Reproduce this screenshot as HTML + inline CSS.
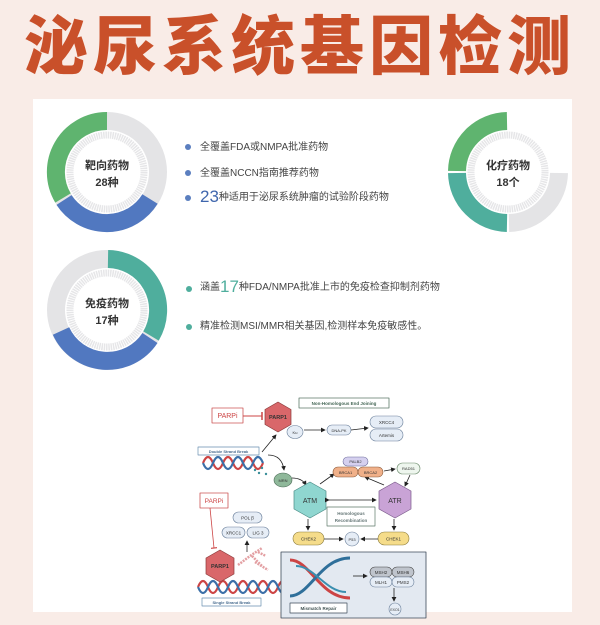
<!DOCTYPE html>
<html><head><meta charset="utf-8">
<style>
html,body{margin:0;padding:0}
body{width:600px;height:625px;background:#f9ece7;position:relative;overflow:hidden;font-family:"Liberation Sans","Noto Sans CJK SC",sans-serif}
.title{position:absolute;left:0;top:2px;width:600px;text-align:center;font-family:"Noto Sans CJK SC",sans-serif;font-weight:900;font-size:64px;line-height:80px;color:#c9502a;letter-spacing:5px}
.panel{position:absolute;left:33px;top:99px;width:539px;height:513px;background:#fff}
.t{position:absolute;font-size:10px;color:#444;white-space:nowrap;line-height:14px}
.dot{position:absolute;width:6px;height:6px;border-radius:50%;background:#5b7fbf}
</style></head><body>
<div class="title">泌尿系统基因检测</div>
<div class="panel"></div>
<svg width="600" height="625" style="position:absolute;left:0;top:0" font-family="Liberation Sans, Noto Sans CJK SC, sans-serif">
<defs>
<g id="inner"><circle r="37" fill="none" stroke="#e6e6e8" stroke-width="7" stroke-dasharray="1.5 0.8"/></g>
</defs>
<!-- donut 1 -->
<g transform="translate(107,172)">
<circle r="51" fill="none" stroke="#e4e4e6" stroke-width="18"/>
<path d="M0 -51 A51 51 0 0 0 -44 26" fill="none" stroke="#5fb46f" stroke-width="18"/>
<path d="M-43 28 A51 51 0 0 0 43 27" fill="none" stroke="#5178c0" stroke-width="18"/>
<use href="#inner"/>
<text y="-3" text-anchor="middle" font-size="11" font-weight="bold" fill="#333">靶向药物</text>
<text y="14" text-anchor="middle" font-size="11" font-weight="bold" fill="#333">28种</text>
</g>
<!-- donut 2 -->
<g transform="translate(107,310)">
<circle r="51" fill="none" stroke="#e4e4e6" stroke-width="18"/>
<path d="M1 -51 A51 51 0 0 1 44 26" fill="none" stroke="#4fae9d" stroke-width="18"/>
<path d="M43 28 A51 51 0 0 1 -46 21" fill="none" stroke="#5178c0" stroke-width="18"/>
<use href="#inner"/>
<text y="-3" text-anchor="middle" font-size="11" font-weight="bold" fill="#333">免疫药物</text>
<text y="14" text-anchor="middle" font-size="11" font-weight="bold" fill="#333">17种</text>
</g>
<!-- donut 3 -->
<g transform="translate(508,172)">
<path d="M51 1 A51 51 0 0 1 1 51" fill="none" stroke="#e4e4e6" stroke-width="18"/>
<path d="M-1 -51 A51 51 0 0 0 -51 -1" fill="none" stroke="#5fb46f" stroke-width="18"/>
<path d="M-51 1 A51 51 0 0 0 -1 51" fill="none" stroke="#4fae9d" stroke-width="18"/>
<use href="#inner"/>
<text y="-3" text-anchor="middle" font-size="11" font-weight="bold" fill="#333">化疗药物</text>
<text y="14" text-anchor="middle" font-size="11" font-weight="bold" fill="#333">18个</text>
</g>

<!-- diagram -->
<g font-size="5" fill="#333" stroke-linejoin="round">
<!-- arrows marker -->
<defs><marker id="ar" markerWidth="6" markerHeight="6" refX="5" refY="3" orient="auto"><path d="M0 0 L6 3 L0 6Z" fill="#222"/></marker>
<marker id="tb" markerWidth="2" markerHeight="8" refX="1" refY="4" orient="auto"><path d="M1 0 V8" stroke="#c44" stroke-width="1.5"/></marker></defs>
<rect x="212" y="408" width="31" height="15" fill="#fff" stroke="#c55" stroke-width="0.8"/>
<text x="227.5" y="418" text-anchor="middle" font-size="7" fill="#c44">PARPi</text>
<line x1="243" y1="416" x2="262" y2="416" stroke="#c44" stroke-width="1" marker-end="url(#tb)"/>
<polygon points="278,402 291,409.5 291,424.5 278,432 265,424.5 265,409.5" fill="#d9676a" stroke="#8a3a3a" stroke-width="0.7"/>
<text x="278" y="419" text-anchor="middle" font-size="5.5" font-weight="bold">PARP1</text>
<rect x="299" y="398" width="90" height="10" fill="#fff" stroke="#5d7a6a" stroke-width="0.8"/>
<text x="344" y="405" text-anchor="middle" font-size="4.5" font-weight="bold" fill="#465">Non-Homologous End Joining</text>
<ellipse cx="295" cy="432" rx="8" ry="6.5" fill="#e6edf6" stroke="#6a7f9a" stroke-width="0.6"/>
<text x="295" y="434" text-anchor="middle" font-size="4">Ku</text>
<line x1="304" y1="430" x2="325" y2="430" stroke="#222" stroke-width="0.8" marker-end="url(#ar)"/>
<rect x="327" y="425" width="24" height="10" rx="5" fill="#e6edf6" stroke="#6a7f9a" stroke-width="0.6"/>
<text x="339" y="432" text-anchor="middle" font-size="4">DNA-PK</text>
<line x1="351" y1="430" x2="368" y2="428" stroke="#222" stroke-width="0.8" marker-end="url(#ar)"/>
<rect x="370" y="416" width="33" height="12" rx="6" fill="#e6edf6" stroke="#6a7f9a" stroke-width="0.6"/>
<text x="386.5" y="424" text-anchor="middle" font-size="4.5">XRCC4</text>
<rect x="370" y="429" width="33" height="12" rx="6" fill="#e6edf6" stroke="#6a7f9a" stroke-width="0.6"/>
<text x="386.5" y="437" text-anchor="middle" font-size="4.5">Artemis</text>
<rect x="198" y="447" width="61" height="8" fill="#fff" stroke="#6a8fb0" stroke-width="0.7"/>
<text x="228.5" y="453" text-anchor="middle" font-size="4" font-weight="bold" fill="#4a6d90">Double Strand Break</text>
<path d="M203 463 q5 -12 10 0 t10 0 t10 0 t10 0 t10 0 t10 0" fill="none" stroke="#c44" stroke-width="2.2"/>
<path d="M203 463 q5 12 10 0 t10 0 t10 0 t10 0 t10 0 t10 0" fill="none" stroke="#3b6fa8" stroke-width="2.2"/>
<g fill="#3a8f9a"><circle cx="255" cy="470" r="1.2"/><circle cx="259" cy="473" r="1.2"/><circle cx="262" cy="468" r="1.2"/><circle cx="266" cy="474" r="1.2"/></g>
<line x1="262" y1="452" x2="276" y2="435" stroke="#222" stroke-width="0.8" marker-end="url(#ar)"/>
<path d="M268 455 Q282 455 284 470" fill="none" stroke="#222" stroke-width="0.8" marker-end="url(#ar)"/>
<ellipse cx="283" cy="480" rx="9" ry="7" fill="#8fb89a" stroke="#4a6a55" stroke-width="0.6"/>
<text x="283" y="482" text-anchor="middle" font-size="4">MRN</text>
<path d="M292 478 Q302 478 306 485" fill="none" stroke="#222" stroke-width="0.8" marker-end="url(#ar)"/>
<polygon points="310,482 326,491 326,509 310,518 294,509 294,491" fill="#8fd6d0" stroke="#4a8a85" stroke-width="0.7"/>
<text x="310" y="503" text-anchor="middle" font-size="7">ATM</text>
<polygon points="395,482 411,491 411,509 395,518 379,509 379,491" fill="#c9a3d6" stroke="#7a5a8a" stroke-width="0.7"/>
<text x="395" y="503" text-anchor="middle" font-size="7">ATR</text>
<line x1="329" y1="500" x2="376" y2="500" stroke="#222" stroke-width="0.8" marker-end="url(#ar)" marker-start="url(#ar)"/>
<line x1="320" y1="484" x2="334" y2="474" stroke="#222" stroke-width="0.8" marker-end="url(#ar)"/>
<line x1="384" y1="485" x2="365" y2="477" stroke="#222" stroke-width="0.8" marker-end="url(#ar)"/>
<rect x="343" y="457" width="25" height="9" rx="4.5" fill="#d5d0ef" stroke="#6a6a9a" stroke-width="0.6"/>
<text x="355.5" y="463" text-anchor="middle" font-size="4">PALB2</text>
<rect x="333" y="467" width="25" height="10" rx="5" fill="#f0b089" stroke="#8a5a3a" stroke-width="0.6"/>
<text x="345.5" y="474" text-anchor="middle" font-size="4">BRCA1</text>
<rect x="358" y="467" width="25" height="10" rx="5" fill="#f0b089" stroke="#8a5a3a" stroke-width="0.6"/>
<text x="370.5" y="474" text-anchor="middle" font-size="4">BRCA2</text>
<line x1="384" y1="471" x2="395" y2="469" stroke="#222" stroke-width="0.8" marker-end="url(#ar)"/>
<rect x="397" y="463" width="23" height="11" rx="5.5" fill="#eef6ee" stroke="#6a8a6a" stroke-width="0.6"/>
<text x="408.5" y="470" text-anchor="middle" font-size="4">RAD51</text>
<line x1="410" y1="475" x2="405" y2="486" stroke="#222" stroke-width="0.8" marker-end="url(#ar)"/>
<rect x="327" y="507" width="48" height="19" fill="#fff" stroke="#5d7a6a" stroke-width="0.7"/>
<text x="351" y="515" text-anchor="middle" font-size="4.5" font-weight="bold" fill="#677">Homologous</text>
<text x="351" y="522" text-anchor="middle" font-size="4.5" font-weight="bold" fill="#677">Recombination</text>
<line x1="308" y1="519" x2="308" y2="530" stroke="#222" stroke-width="0.8" marker-end="url(#ar)"/>
<line x1="394" y1="519" x2="394" y2="530" stroke="#222" stroke-width="0.8" marker-end="url(#ar)"/>
<rect x="293" y="532" width="31" height="13" rx="6.5" fill="#f5dc8a" stroke="#8a7a3a" stroke-width="0.6"/>
<text x="308.5" y="540.5" text-anchor="middle" font-size="4.5">CHEK2</text>
<rect x="378" y="532" width="31" height="13" rx="6.5" fill="#f5dc8a" stroke="#8a7a3a" stroke-width="0.6"/>
<text x="393.5" y="540.5" text-anchor="middle" font-size="4.5">CHEK1</text>
<line x1="324" y1="539" x2="343" y2="539" stroke="#222" stroke-width="0.8" marker-end="url(#ar)"/>
<line x1="378" y1="539" x2="361" y2="539" stroke="#222" stroke-width="0.8" marker-end="url(#ar)"/>
<circle cx="352" cy="539" r="7" fill="#e6edf6" stroke="#6a7f9a" stroke-width="0.6"/>
<text x="352" y="541" text-anchor="middle" font-size="4">P53</text>
<!-- SSB -->
<rect x="200" y="493" width="28" height="15" fill="#fff" stroke="#c55" stroke-width="0.8"/>
<text x="214" y="503" text-anchor="middle" font-size="6.5" fill="#c44">PARPi</text>
<line x1="210" y1="508" x2="214" y2="548" stroke="#c44" stroke-width="0.8" marker-end="url(#tb)"/>
<rect x="233" y="512" width="29" height="11" rx="5.5" fill="#e6edf6" stroke="#6a7f9a" stroke-width="0.6"/>
<text x="247.5" y="519.5" text-anchor="middle" font-size="4.5">POL β</text>
<rect x="222" y="527" width="23" height="11" rx="5.5" fill="#e6edf6" stroke="#6a7f9a" stroke-width="0.6"/>
<text x="233.5" y="534.5" text-anchor="middle" font-size="4.5">XRCC1</text>
<rect x="247" y="527" width="22" height="11" rx="5.5" fill="#e6edf6" stroke="#6a7f9a" stroke-width="0.6"/>
<text x="258" y="534.5" text-anchor="middle" font-size="4.5">LIG 3</text>
<line x1="247" y1="552" x2="247" y2="541" stroke="#222" stroke-width="0.8" marker-end="url(#ar)"/>
<path d="M238 565 L250 556 L262 548 M252 556 L262 566 M258 552 L266 556 M255 562 L268 570" stroke="#e3a0a3" stroke-width="2.5" stroke-dasharray="2 1" fill="none"/>
<path d="M198 587 q5 -12 10 0 t10 0 t10 0 t10 0 t10 0 t10 0 t10 0 t10 0 t10 0" fill="none" stroke="#c44" stroke-width="2.2"/>
<path d="M198 587 q5 12 10 0 t10 0 t10 0 t10 0 t10 0 t10 0 t10 0 t10 0 t10 0" fill="none" stroke="#3b6fa8" stroke-width="2.2"/>
<polygon points="220,550 234,558 234,574 220,582 206,574 206,558" fill="#d9676a" stroke="#8a3a3a" stroke-width="0.7"/>
<text x="220" y="568" text-anchor="middle" font-size="5.5" font-weight="bold">PARP1</text>
<rect x="202" y="598" width="59" height="8" fill="#fff" stroke="#6a8fb0" stroke-width="0.7"/>
<text x="231.5" y="604" text-anchor="middle" font-size="4" font-weight="bold" fill="#4a6d90">Single Strand Break</text>
<!-- MMR -->
<rect x="281" y="552" width="145" height="66" fill="#e3e9f1" stroke="#3d4a5a" stroke-width="0.8"/>
<path d="M290 560 C310 560 320 598 350 598" fill="none" stroke="#c44" stroke-width="3"/>
<path d="M290 596 C310 596 320 558 350 558" fill="none" stroke="#2f6f9a" stroke-width="3"/>
<path d="M296 566 C314 566 326 592 346 592" fill="none" stroke="#3b8fb0" stroke-width="2"/>
<line x1="353" y1="576" x2="367" y2="576" stroke="#222" stroke-width="0.8" marker-end="url(#ar)"/>
<g font-size="4.5">
<rect x="370" y="567" width="22" height="10" rx="5" fill="#bfc4cc" stroke="#444" stroke-width="0.6"/><text x="381" y="574" text-anchor="middle">MSH2</text>
<rect x="392" y="567" width="22" height="10" rx="5" fill="#bfc4cc" stroke="#444" stroke-width="0.6"/><text x="403" y="574" text-anchor="middle">MSH6</text>
<rect x="370" y="577" width="22" height="10" rx="5" fill="#e6edf6" stroke="#6a7f9a" stroke-width="0.6"/><text x="381" y="584" text-anchor="middle">MLH1</text>
<rect x="392" y="577" width="22" height="10" rx="5" fill="#e6edf6" stroke="#6a7f9a" stroke-width="0.6"/><text x="403" y="584" text-anchor="middle">PMS2</text>
</g>
<line x1="394" y1="588" x2="394" y2="601" stroke="#222" stroke-width="0.8" marker-end="url(#ar)"/>
<circle cx="395" cy="609" r="6" fill="#e6edf6" stroke="#6a7f9a" stroke-width="0.6"/>
<text x="395" y="611" text-anchor="middle" font-size="3.5">EXO1</text>
<rect x="290" y="603" width="57" height="10" fill="#fff" stroke="#3d4a5a" stroke-width="0.7"/>
<text x="318.5" y="610" text-anchor="middle" font-size="4.5" font-weight="bold" fill="#455">Mismatch Repair</text>
</g>
</svg>
<div class="dot" style="left:185px;top:144px"></div><div class="t" style="left:200px;top:141px">全覆盖FDA或NMPA批准药物</div>
<div class="dot" style="left:185px;top:170px"></div><div class="t" style="left:200px;top:167px">全覆盖NCCN指南推荐药物</div>
<div class="dot" style="left:185px;top:195px"></div><div class="t" style="left:200px;top:190px"><span style="font-size:17px;color:#3f66ad;vertical-align:-2px">23</span>种适用于泌尿系统肿瘤的试验阶段药物</div>
<div class="dot" style="left:186px;top:286px;background:#4fae9d"></div><div class="t" style="left:200px;top:280px"><span>涵盖</span><span style="font-size:17px;color:#4fae9d;vertical-align:-2px">17</span>种FDA/NMPA批准上市的免疫检查抑制剂药物</div>
<div class="dot" style="left:186px;top:324px;background:#4fae9d"></div><div class="t" style="left:200px;top:320px">精准检测MSI/MMR相关基因,检测样本免疫敏感性。</div>
</body></html>
